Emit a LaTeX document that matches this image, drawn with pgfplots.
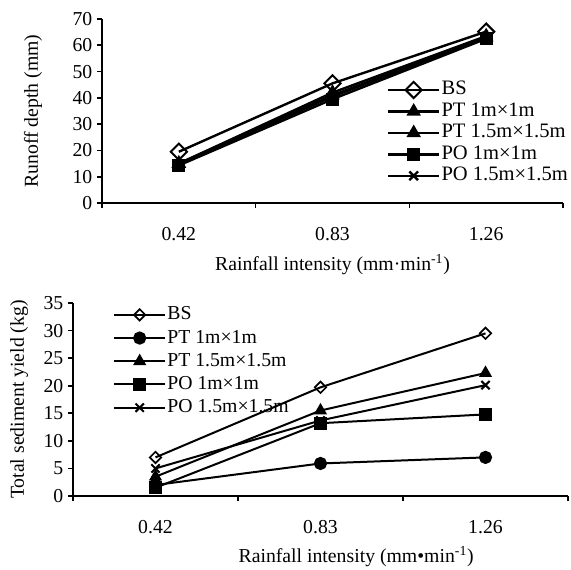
\documentclass[border=0pt]{standalone}
\usepackage{fontspec}
\setmainfont{Liberation Serif}
\usepackage{pgfplots}
\pgfplotsset{compat=1.18}
\pgfplotsset{
  legend image code/.code={\draw[mark repeat=2,mark phase=2,#1] plot coordinates {(0pt,0pt) (19pt,0pt) (38pt,0pt)};},
  common/.style={
    scale only axis,
    font=\fontsize{14.8}{17}\selectfont,
    axis lines=left,
    axis line style={-, line width=1.5pt},
    xmin=0.5, xmax=3.5,
    xtick={0.5,1.5,2.5,3.5}, xticklabels={},
    extra x ticks={1,2,3}, extra x tick labels={0.42,0.83,1.26},
    extra x tick style={major tick length=0pt, xticklabel style={yshift=-15pt}},
    tick align=outside, major tick length=3.75pt,
    tick style={line width=1.2pt, black},
    /pgf/number format/assume math mode=true,
    legend cell align=left,
  },
}
\begin{document}
\begin{tikzpicture}
\useasboundingbox (0pt,0pt) rectangle (428.25pt,427.5pt);
% top chart
\begin{axis}[common,
  at={(76.5pt,275.25pt)}, anchor=south west,
  width=345.75pt, height=138pt,
  ymin=0, ymax=70, ytick={0,10,...,70},
  ylabel={Runoff depth (mm)},
  ylabel style={at={(axis description cs:-0.1497,0.5)}, anchor=center},
  xlabel={Rainfall intensity (mm·min\textsuperscript{-1})},
  xlabel style={at={(axis description cs:0.5,-0.337)}, anchor=center},
  legend style={draw=none, fill=none, at={(0.618,0.674)}, anchor=north west,
    row sep=0pt, inner sep=0pt, nodes={inner sep=1pt, text height=10.6pt, text depth=3.5pt, font=\fontsize{15.4}{17}\selectfont}},
]
\addplot[line width=1.8pt, mark=square, mark size=4.3pt, mark options={rotate=45, fill=white, line width=1.5pt}]
  coordinates {(1,19.5) (2,45.5) (3,65.2)};
\addlegendentry{BS}
\addplot[line width=1.8pt, mark=triangle*, mark size=4.5pt]
  coordinates {(1,15.0) (2,42.0) (3,63.5)};
\addlegendentry{PT 1m×1m}
\addplot[line width=1.8pt, mark=triangle*, mark size=4.5pt]
  coordinates {(1,15.0) (2,41.0) (3,63.0)};
\addlegendentry{PT 1.5m×1.5m}
\addplot[line width=1.8pt, mark=square*, mark size=3.9pt]
  coordinates {(1,14.3) (2,39.5) (3,62.5)};
\addlegendentry{PO 1m×1m}
\addplot[line width=1.8pt, mark=x, mark size=4.6pt, mark options={line width=1.8pt}]
  coordinates {(1,14.8) (2,40.5) (3,63.0)};
\addlegendentry{PO 1.5m×1.5m}
\end{axis}
% bottom chart
\begin{axis}[common,
  at={(54.75pt,55.5pt)}, anchor=south west,
  width=371.25pt, height=144.75pt,
  ymin=0, ymax=35, ytick={0,5,...,35},
  ylabel={Total sediment yield (kg)},
  ylabel style={at={(axis description cs:-0.109,0.5)}, anchor=center},
  xlabel={Rainfall intensity (mm•min\textsuperscript{-1})},
  xlabel style={at={(axis description cs:0.572,-0.316)}, anchor=center},
  legend style={draw=none, fill=none, at={(0.081,1.0)}, anchor=north west,
    row sep=0pt, inner sep=0pt, nodes={inner sep=1pt, text height=11.4pt, text depth=4pt}},
]
\addplot[line width=1.5pt, mark=square, mark size=3.0pt, mark options={rotate=45, fill=white, line width=1.3pt}]
  coordinates {(1,7.0) (2,19.7) (3,29.5)};
\addlegendentry{BS}
\addplot[line width=1.5pt, mark=*, mark size=4.2pt]
  coordinates {(1,2.0) (2,5.9) (3,7.0)};
\addlegendentry{PT 1m×1m}
\addplot[line width=1.5pt, mark=triangle*, mark size=4.2pt]
  coordinates {(1,3.5) (2,15.5) (3,22.3)};
\addlegendentry{PT 1.5m×1.5m}
\addplot[line width=1.5pt, mark=square*, mark size=4.0pt]
  coordinates {(1,1.5) (2,13.2) (3,14.8)};
\addlegendentry{PO 1m×1m}
\addplot[line width=1.5pt, mark=x, mark size=4.4pt, mark options={line width=1.5pt}]
  coordinates {(1,5.0) (2,13.7) (3,20.1)};
\addlegendentry{PO 1.5m×1.5m}
\end{axis}
\end{tikzpicture}
\end{document}
